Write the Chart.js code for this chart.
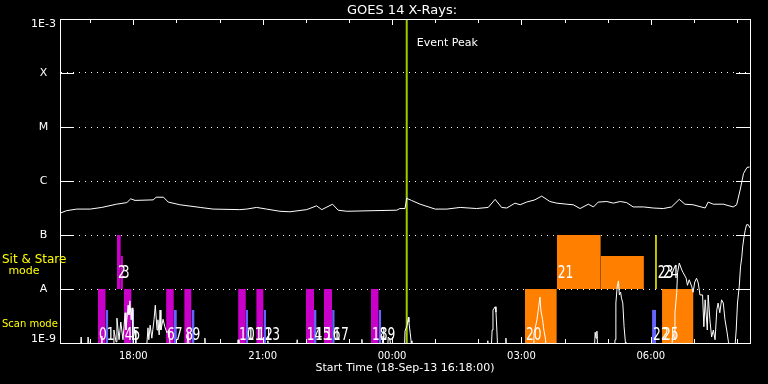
<!DOCTYPE html>
<html>
<head>
<meta charset="utf-8">
<script src="https://cdn.jsdelivr.net/npm/chart.js@4.4.0/dist/chart.umd.min.js"></script>
<style>
  html, body { margin: 0; padding: 0; background: #000; }
  canvas { display: block; }
</style>
</head>
<body>
<canvas id="goes" width="768" height="384"></canvas>
<script>
// ---- data ----
// time is hours of 18-Sep-13 (values past 24 fall on 19-Sep)
const startHour = 16.3;
const endHour = 32.3;
const peakHour = 24.34;

const labelHours = [18, 21, 24, 27, 30];
const decadeValues = [1e-9, 1e-8, 1e-7, 1e-6, 1e-5, 1e-4, 1e-3];
const decadeLabels = ['1E-9', 'A', 'B', 'C', 'M', 'X', '1E-3'];

// GOES 14 long channel (1-8 A), W/m^2
const longT = [16.32, 16.45, 16.69, 17.00, 17.27, 17.61, 17.85, 17.94, 18.04, 18.46, 18.53, 18.70, 18.81, 19.08, 19.55, 19.85,
  20.47, 20.63, 20.86, 21.09, 21.40, 21.63, 22.02, 22.25, 22.37, 22.62, 22.75, 22.95, 23.56, 24.11, 24.18, 24.30,
  24.34, 24.45, 24.65, 25.00, 25.27, 25.58, 25.96, 26.23, 26.39, 26.54, 26.66, 26.85, 26.97, 27.12, 27.31, 27.47,
  27.66, 27.82, 28.05, 28.20, 28.36, 28.55, 28.67, 28.78, 28.98, 29.13, 29.29, 29.44, 29.59, 29.83, 30.06, 30.29,
  30.48, 30.66, 30.79, 30.98, 31.26, 31.33, 31.45, 31.68, 31.91, 31.99, 32.07, 32.15, 32.23, 32.29];
const longFlux = [2.57e-7, 2.82e-7, 3.02e-7, 3.02e-7, 3.24e-7, 3.72e-7, 3.98e-7, 4.68e-7, 4.37e-7, 4.47e-7, 5.01e-7, 5.01e-7, 4.07e-7, 3.63e-7, 3.24e-7, 3.02e-7,
  2.95e-7, 3.02e-7, 3.24e-7, 3.02e-7, 2.75e-7, 2.69e-7, 2.95e-7, 3.47e-7, 2.95e-7, 3.72e-7, 2.88e-7, 2.75e-7, 2.82e-7, 2.88e-7, 3.09e-7, 3.09e-7,
  4.79e-7, 4.37e-7, 3.72e-7, 3.02e-7, 3.02e-7, 3.24e-7, 3.09e-7, 3.24e-7, 4.57e-7, 3.24e-7, 3.16e-7, 3.89e-7, 3.63e-7, 4.07e-7, 4.47e-7, 5.25e-7,
  4.17e-7, 3.89e-7, 3.72e-7, 3.63e-7, 3.09e-7, 3.72e-7, 3.31e-7, 4.07e-7, 4.17e-7, 3.89e-7, 4.17e-7, 3.98e-7, 3.31e-7, 3.31e-7, 3.16e-7, 3.09e-7,
  3.31e-7, 4.57e-7, 3.72e-7, 3.63e-7, 3.16e-7, 4.07e-7, 3.72e-7, 3.72e-7, 3.31e-7, 3.63e-7, 6.76e-7, 1.38e-6, 1.78e-6, 1.82e-6];

// GOES 14 short channel (0.5-4 A), W/m^2 (5e-10 = below plot floor)
const shortT = [16.30, 16.76, 16.79, 16.83, 16.93, 16.95, 17.02, 17.25, 17.27, 17.30, 17.53, 17.55, 17.60, 17.62, 17.67, 17.71,
  17.76, 17.81, 17.83, 17.88, 17.90, 17.92, 17.95, 17.97, 17.99, 18.04, 18.06, 18.09, 18.29, 18.34, 18.36, 18.39,
  18.43, 18.48, 18.51, 18.55, 18.57, 18.60, 18.62, 18.64, 18.69, 18.73, 18.78, 18.83, 18.87, 19.22, 19.27, 19.31,
  19.64, 19.66, 19.69, 20.40, 20.43, 20.45, 21.10, 21.12, 21.15, 21.77, 21.80, 21.82, 23.28, 23.30, 23.33, 23.74,
  23.79, 23.84, 23.89, 23.91, 23.95, 24.00, 24.28, 24.30, 24.35, 24.38, 24.39, 24.42, 24.44, 24.46, 26.20, 26.22,
  26.25, 26.29, 26.32, 26.34, 26.39, 26.41, 26.43, 26.46, 26.62, 26.64, 26.67, 27.27, 27.29, 27.36, 27.40, 27.43,
  27.45, 27.49, 27.52, 27.56, 27.59, 28.68, 28.71, 28.73, 28.75, 28.78, 29.15, 29.17, 29.19, 29.22, 29.25, 29.27,
  29.30, 29.32, 29.35, 29.38, 29.41, 29.42, 30.47, 30.51, 30.54, 30.56, 30.60, 30.62, 30.66, 30.72, 30.75, 30.82,
  30.85, 30.89, 30.95, 30.98, 31.02, 31.06, 31.10, 31.14, 31.20, 31.23, 31.26, 31.31, 31.33, 31.37, 31.41, 31.45,
  31.49, 31.53, 31.56, 31.60, 31.64, 31.68, 31.72, 31.76, 31.80, 31.88, 31.93, 31.98, 32.01, 32.05, 32.08, 32.11,
  32.13, 32.16, 32.19, 32.22, 32.26, 32.30];
const shortFlux = [5e-10, 5e-10, 1.29e-9, 5e-10, 5e-10, 1.29e-9, 5e-10, 5e-10, 1.35e-9, 5e-10, 5e-10, 1.74e-9, 1.05e-9, 2.88e-9, 1.15e-9, 2.45e-9,
  1.15e-9, 3.63e-9, 1.74e-9, 5.01e-9, 3.31e-9, 6.03e-9, 2.69e-9, 4.47e-9, 1.15e-9, 1.74e-9, 1.0e-9, 5e-10, 5e-10, 1.91e-9, 1.15e-9, 2.14e-9,
  1.23e-9, 2.69e-9, 5.01e-9, 1.74e-9, 2.69e-9, 1.41e-9, 4.07e-9, 1.74e-9, 2.75e-9, 2.00e-9, 1.55e-9, 1.74e-9, 5e-10, 5e-10, 1.55e-9, 5e-10,
  5e-10, 1.23e-9, 5e-10, 5e-10, 1.15e-9, 5e-10, 5e-10, 1.10e-9, 5e-10, 5e-10, 1.15e-9, 5e-10, 5e-10, 1.17e-9, 5e-10, 5e-10,
  1.35e-9, 5e-10, 5e-10, 1.29e-9, 1.17e-9, 5e-10, 5e-10, 1.66e-9, 2.14e-9, 3.02e-9, 2.45e-9, 1.55e-9, 1.10e-9, 5e-10, 5e-10, 1.10e-9,
  5e-10, 5e-10, 1.74e-9, 4.07e-9, 4.68e-9, 3.72e-9, 1.74e-9, 5e-10, 5e-10, 1.23e-9, 5e-10, 5e-10, 1.48e-9, 2.69e-9, 4.68e-9, 7.08e-9,
  4.07e-9, 2.69e-9, 1.74e-9, 1.15e-9, 5e-10, 5e-10, 1.58e-9, 1.23e-9, 1.66e-9, 5e-10, 5e-10, 1.15e-9, 5.50e-9, 1.10e-8, 1.41e-8, 7.76e-9,
  8.71e-9, 6.76e-9, 5.50e-9, 2.00e-9, 1.05e-9, 5e-10, 5e-10, 1.55e-9, 1.23e-9, 3.63e-9, 8.51e-9, 2.00e-8, 3.02e-8, 2.24e-8, 2.00e-8, 1.58e-8,
  1.17e-8, 1.48e-8, 1.10e-8, 8.71e-9, 1.35e-8, 1.58e-8, 1.29e-8, 7.76e-9, 7.76e-9, 2.00e-9, 6.31e-9, 1.74e-9, 7.76e-9, 2.69e-9, 1.29e-9, 1.74e-9,
  1.15e-9, 4.07e-9, 5.50e-9, 3.63e-9, 6.31e-9, 5.50e-9, 2.69e-9, 1.74e-9, 1.05e-9, 5e-10, 5e-10, 1.74e-9, 5.50e-9, 1.10e-8, 2.57e-8, 3.89e-8,
  6.03e-8, 9.12e-8, 1.23e-7, 1.55e-7, 1.55e-7, 1.35e-7];

// observation blocks, scan mode (band 1E-9 .. 1E-8)
const scanStart = [17.18, 17.36, 17.78, 17.96, 18.76, 18.94, 19.18, 19.35, 20.43, 20.61, 20.85, 21.02,
  22.00, 22.19, 22.42, 22.61, 23.51, 23.69, 27.08, 30.03, 30.26];
const scanEnd = [17.36, 17.42, 17.96, 18.02, 18.94, 19.01, 19.35, 19.42, 20.61, 20.66, 21.02, 21.08,
  22.19, 22.25, 22.61, 22.67, 23.69, 23.75, 27.82, 30.12, 30.99];
const scanTop = [1e-8, 4.1e-9, 1e-8, 4.1e-9, 1e-8, 4.1e-9, 1e-8, 4.1e-9, 1e-8, 4.1e-9, 1e-8, 4.1e-9,
  1e-8, 4.1e-9, 1e-8, 4.1e-9, 1e-8, 4.1e-9, 1e-8, 4.1e-9, 1e-8];
const scanInst = ['m', 'b', 'm', 'b', 'm', 'b', 'm', 'b', 'm', 'b', 'm', 'b',
  'm', 'b', 'm', 'b', 'm', 'b', 'o', 'b', 'o'];

// observation blocks, sit & stare mode (band 1E-8 .. 1E-7)
const stareStart = [17.62, 17.71, 27.82, 28.84, 30.10];
const stareEnd = [17.71, 17.76, 28.84, 29.84, 30.14];
const stareTop = [1e-7, 4.1e-8, 1e-7, 4.1e-8, 1e-7];
const stareInst = ['m', 'm', 'o', 'o', 'y'];

// observation numbers
const obsLabel = ['0', '1', '2', '3', '4', '5', '6', '7', '8', '9', '10', '11', '12', '13',
  '14', '15', '16', '17', '18', '19', '20', '21', '22', '23', '24', '25'];
const obsTime = [17.18, 17.36, 17.62, 17.71, 17.78, 17.96, 18.76, 18.94, 19.18, 19.35, 20.43, 20.61, 20.85, 21.02,
  22.00, 22.19, 22.42, 22.61, 23.51, 23.69, 27.08, 27.82, 30.03, 30.14, 30.26, 30.26];
const obsMode = ['scan', 'scan', 'stare', 'stare', 'scan', 'scan', 'scan', 'scan', 'scan', 'scan', 'scan', 'scan', 'scan', 'scan',
  'scan', 'scan', 'scan', 'scan', 'scan', 'scan', 'scan', 'stare', 'scan', 'stare', 'stare', 'scan'];

// ---- styling ----
const instColor = { m: '#c800c8', b: '#6464ff', o: '#ff8000', y: '#ffff00' };
const FONT = 'DejaVu Sans';

function blockSet(s, e, top, base, inst) {
  return {
    data: [{ x: s, y: top }, { x: e, y: top }],
    borderColor: 'transparent',
    borderWidth: 0,
    backgroundColor: instColor[inst],
    fill: { value: base }
  };
}

const datasets = [
  { data: shortT.map((t, i) => ({ x: t, y: shortFlux[i] })), borderColor: '#fff', borderWidth: 1, fill: false },
  { data: longT.map((t, i) => ({ x: t, y: longFlux[i] })), borderColor: '#fff', borderWidth: 1, fill: false },
  { data: [{ x: peakHour, y: 1e-9 }, { x: peakHour, y: 1e-3 }], borderColor: '#9acd00', borderWidth: 2, fill: false }
];
scanStart.forEach((s, i) => datasets.push(blockSet(s, scanEnd[i], scanTop[i], 1e-9, scanInst[i])));
stareStart.forEach((s, i) => datasets.push(blockSet(s, stareEnd[i], stareTop[i], 1e-8, stareInst[i])));

function hhmm(h) {
  const v = Math.round(h) % 24;
  return (v < 10 ? '0' : '') + v + ':00';
}

// frame, inward ticks and the free text
const decorations = {
  id: 'decorations',
  afterDatasetsDraw(chart) {
    const { ctx, chartArea: a, scales: { x, y } } = chart;
    ctx.save();
    ctx.strokeStyle = '#fff';
    ctx.lineWidth = 1;
    ctx.strokeRect(a.left + 0.5, a.top + 0.5, a.right - a.left, a.bottom - a.top);

    ctx.beginPath();
    for (let i = 1; i < decadeValues.length - 1; i++) {
      const py = Math.round(y.getPixelForValue(decadeValues[i])) + 0.5;
      ctx.moveTo(a.left, py); ctx.lineTo(a.left + 14, py);
      ctx.moveTo(a.right - 14, py); ctx.lineTo(a.right, py);
    }
    for (let h = Math.ceil(startHour); h < endHour; h++) {
      const px = Math.round(x.getPixelForValue(h)) + 0.5;
      const len = h % 3 === 0 ? 6 : 4;
      ctx.moveTo(px, a.top); ctx.lineTo(px, a.top + len);
      ctx.moveTo(px, a.bottom); ctx.lineTo(px, a.bottom - len);
    }
    ctx.stroke();

    // observation numbers
    ctx.fillStyle = '#fff';
    ctx.font = '17px "' + FONT + '"';
    ctx.textAlign = 'left';
    ctx.textBaseline = 'alphabetic';
    obsLabel.forEach((lab, i) => {
      const px = x.getPixelForValue(obsTime[i]) + 1;
      const py = obsMode[i] === 'scan' ? y.getPixelForValue(1e-9) - 3 : y.getPixelForValue(1e-8) - 11;
      ctx.save();
      ctx.translate(px, py);
      ctx.scale(0.72, 1);
      ctx.fillText(lab, 0, 0);
      ctx.restore();
    });

    // event peak
    ctx.font = '11px "' + FONT + '"';
    ctx.textBaseline = 'middle';
    ctx.fillText('Event Peak', x.getPixelForValue(peakHour) + 10, a.top + 24);

    // title
    ctx.font = '13px "' + FONT + '"';
    ctx.textAlign = 'center';
    ctx.textBaseline = 'alphabetic';
    ctx.fillText('GOES 14 X-Rays:', (a.left + a.right) / 2 - 3, 14);

    // mode captions
    ctx.fillStyle = '#ffff00';
    ctx.textAlign = 'left';
    ctx.font = '12px "' + FONT + '"';
    ctx.fillText('Sit & Stare', 2, 263);
    ctx.font = '11px "' + FONT + '"';
    ctx.textAlign = 'center';
    ctx.fillText('mode', 24, 274);
    ctx.textAlign = 'left';
    ctx.font = '10px "' + FONT + '"';
    ctx.fillText('Scan mode', 2, 327);
    ctx.restore();
  }
};

new Chart(document.getElementById('goes'), {
  type: 'line',
  data: { datasets },
  options: {
    responsive: false,
    animation: false,
    devicePixelRatio: 1,
    layout: { padding: { top: 19, right: 18, left: 0, bottom: 0 } },
    plugins: { legend: { display: false }, tooltip: { enabled: false } },
    elements: { point: { radius: 0 }, line: { tension: 0 } },
    scales: {
      x: {
        type: 'linear',
        min: startHour,
        max: endHour,
        afterFit: s => { s.height = 41; },
        afterBuildTicks: s => { s.ticks = labelHours.map(v => ({ value: v })); },
        ticks: {
          color: '#fff', font: { family: FONT, size: 10 }, padding: 7,
          maxRotation: 0, autoSkip: false, callback: v => hhmm(v)
        },
        grid: { display: false, drawTicks: false },
        border: { color: '#fff' },
        title: {
          display: true, text: 'Start Time (18-Sep-13 16:18:00)', color: '#fff',
          font: { family: FONT, size: 11 }, padding: { top: 0, bottom: 9 }
        }
      },
      y: {
        type: 'logarithmic',
        min: 1e-9,
        max: 1e-3,
        afterFit: s => { s.width = 60; },
        afterBuildTicks: s => { s.ticks = decadeValues.map(v => ({ value: v })); },
        ticks: {
          color: '#fff', padding: 4, crossAlign: 'center',
          font: c => ({ family: FONT, size: 11, lineHeight: c.index === 0 ? 0.65 : (c.index === decadeValues.length - 1 ? 0.9 : 1.2) }),
          callback: (v, i) => i === 0 ? ['1E-9', ''] : (i === decadeValues.length - 1 ? ['', '1E-3'] : decadeLabels[i])
        },
        grid: { color: '#fff', drawTicks: false },
        border: { color: '#fff', dash: [1, 5] }
      }
    }
  },
  plugins: [decorations]
});
</script>
</body>
</html>
